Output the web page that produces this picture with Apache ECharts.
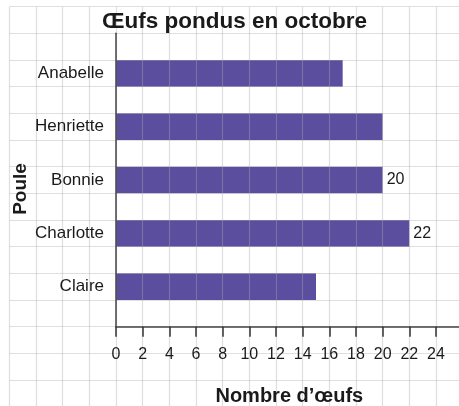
<!DOCTYPE html>
<html>
<head>
<meta charset="utf-8">
<script src="https://cdn.jsdelivr.net/npm/echarts@6/dist/echarts.min.js"></script>
<style>
  html, body {margin:0; padding:0; background:#fff;}
  #chart {width:459px; height:406px;}
</style>
</head>
<body>
<div id="chart"></div>
<script>
// donnees (de haut en bas)
var poules = ['Anabelle', 'Henriette', 'Bonnie', 'Charlotte', 'Claire'];
var oeufs = [17, 20, 20, 22, 15];
var afficheValeur = [false, false, true, true, false];
var xTicks = [0, 2, 4, 6, 8, 10, 12, 14, 16, 18, 20, 22, 24];

// une case vide entre chaque poule, l'axe des categories va de bas en haut
var slots = [''], slotData = [null];
for (var i = poules.length - 1; i >= 0; i--) {
    slots.push(poules[i]);
    slotData.push({
        value: oeufs[i],
        label: {show: afficheValeur[i]}
    });
    slots.push('');
    slotData.push(null);
}

var CELL = 320 / 12;
var txt = '#1a1a1a';
var font = 'Liberation Sans, Arial, sans-serif';

var option = {
    animation: false,
    backgroundColor: '#fff',
    title: {
        text: 'Œufs pondus en octobre',
        left: 97, top: 5,
        textStyle: {fontFamily: font, fontSize: 22.5, fontWeight: 'bold', color: txt}
    },
    grid: [
        {left: 116, top: 33.33, width: CELL * 13, height: CELL * 11, outerBoundsMode: 'none', containLabel: false},
        // papier quadrille de fond
        {left: 116 - 4 * CELL, top: 326.67 - 12 * CELL, width: CELL * 17, height: CELL * 15, outerBoundsMode: 'none', containLabel: false}
    ],
    xAxis: [{
        type: 'value', gridIndex: 0, min: 0, max: 26, interval: 2, z: 4,
        name: 'Nombre d’œufs', nameLocation: 'middle', nameGap: 60, nameMoveOverlap: false,
        nameTextStyle: {fontFamily: font, fontSize: 20, fontWeight: 'bold', color: txt},
        axisLine: {show: true, lineStyle: {color: '#444', width: 1.5}},
        axisTick: {show: true, length: 10, lineStyle: {color: '#333', width: 1.5}},
        splitLine: {show: false},
        axisLabel: {
            margin: 20, fontFamily: font, fontSize: 16, color: txt,
            showMaxLabel: false,
            formatter: function (v) { return xTicks.indexOf(v) >= 0 ? v : ''; }
        }
    }, {
        type: 'value', gridIndex: 1, min: 0, max: 17, interval: 1, z: 3,
        axisLine: {show: false}, axisTick: {show: false}, axisLabel: {show: false},
        splitLine: {show: true, lineStyle: {color: 'rgba(170,170,170,0.38)', width: 1.2}}
    }],
    yAxis: [{
        type: 'category', gridIndex: 0, data: slots, z: 4,
        name: 'Poule', nameLocation: 'middle', nameGap: 86, nameMoveOverlap: false,
        nameTextStyle: {fontFamily: font, fontSize: 19, fontWeight: 'bold', color: txt, padding: [0, 18, 0, 0]},
        axisLine: {show: true, lineStyle: {color: '#444', width: 1.5}},
        axisTick: {show: false},
        axisLabel: {interval: 0, margin: 12, fontFamily: font, fontSize: 17, color: txt}
    }, {
        type: 'value', gridIndex: 1, min: 0, max: 15, interval: 1, z: 3,
        axisLine: {show: false}, axisTick: {show: false}, axisLabel: {show: false},
        splitLine: {show: true, lineStyle: {color: 'rgba(170,170,170,0.38)', width: 1.2}}
    }],
    series: [{
        type: 'bar',
        xAxisIndex: 0, yAxisIndex: 0,
        data: slotData,
        barWidth: '100%',
        itemStyle: {color: '#5b4e9e'},
        label: {
            show: false, position: 'right', distance: 4,
            fontFamily: font, fontSize: 16, color: txt
        }
    }]
};

var chart = echarts.init(document.getElementById('chart'));
chart.setOption(option);
</script>
</body>
</html>
